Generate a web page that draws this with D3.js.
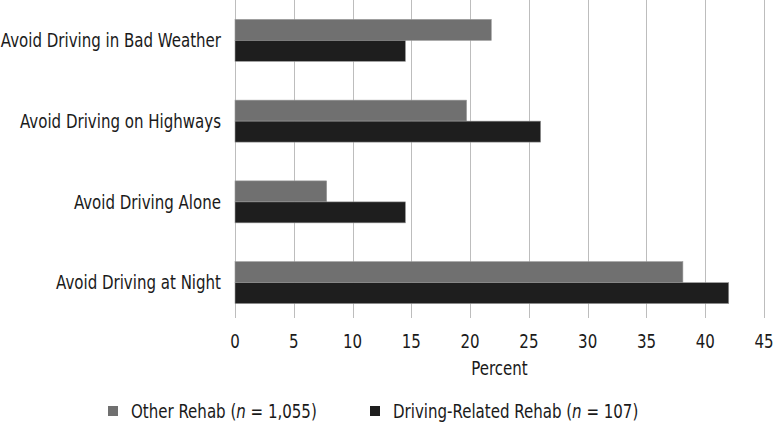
<!DOCTYPE html>
<html>
<head>
<meta charset="utf-8">
<script src="https://cdn.jsdelivr.net/npm/d3@7"></script>
<style>
  body { margin: 0; background: #fff; }
  text { font-family: "DejaVu Sans Condensed", "DejaVu Sans", sans-serif; fill: #1a1a1a; font-size: 19px; }
</style>
</head>
<body>
<svg id="chart" width="773" height="426"></svg>
<script>
// data
const categories = ['Avoid Driving in Bad Weather', 'Avoid Driving on Highways', 'Avoid Driving Alone', 'Avoid Driving at Night'];
const otherRehab = [21.8, 19.7, 7.8, 38.1];
const drivingRehab = [14.5, 26.0, 14.5, 42.0];
const seriesNames = ['Other Rehab', 'Driving-Related Rehab'];
const seriesN = ['1,055', '107'];
const seriesColors = ['#707070', '#1e1e1e'];
const xTicks = [0, 5, 10, 15, 20, 25, 30, 35, 40, 45];

const svg = d3.select('#chart');
const narrow = 0.88; // squeeze glyphs to look like the condensed face
const place = (px, py) => `translate(${px},${py}) scale(${narrow},1)`;

const x = d3.scaleLinear().domain([0, 45]).range([235, 764]);
const y = d3.scaleBand().domain(categories).range([0, 323]).paddingInner(0.48).paddingOuter(0.24);
const ySub = d3.scaleBand().domain([0, 1]).range([0, y.bandwidth()]);

// gridlines + ticks
svg.append('g')
  .selectAll('line')
  .data(xTicks)
  .enter()
  .append('line')
  .attr('x1', (d) => Math.round(x(d)) + 0.5)
  .attr('x2', (d) => Math.round(x(d)) + 0.5)
  .attr('y1', 0)
  .attr('y2', 318)
  .attr('stroke', '#bdbdbd')
  .attr('stroke-width', 1);

const rows = categories.map((c, i) => ({ cat: c, vals: [otherRehab[i], drivingRehab[i]] }));

const groups = svg.append('g')
  .selectAll('g')
  .data(rows)
  .enter()
  .append('g')
  .attr('transform', (d) => `translate(0,${y(d.cat)})`);

groups.selectAll('rect')
  .data((d) => d.vals.map((v, k) => ({ v, k })))
  .enter()
  .append('rect')
  .attr('x', x(0))
  .attr('y', (d) => ySub(d.k))
  .attr('width', (d) => x(d.v) - x(0))
  .attr('height', ySub.bandwidth())
  .attr('fill', (d) => seriesColors[d.k])
  .attr('stroke', '#9a9a9a')
  .attr('stroke-width', 0.6);

// category labels
svg.append('g')
  .selectAll('text')
  .data(categories)
  .enter()
  .append('text')
  .attr('transform', (d) => place(221, y(d) + y.bandwidth() / 2))
  .attr('dy', '0.35em')
  .attr('text-anchor', 'end')
  .text((d) => d);

// x tick labels
svg.append('g')
  .selectAll('text')
  .data(xTicks)
  .enter()
  .append('text')
  .attr('transform', (d) => place(x(d), 341))
  .attr('dy', '0.35em')
  .attr('text-anchor', 'middle')
  .text((d) => d);

svg.append('text')
  .attr('transform', place((x(0) + x(45)) / 2, 368))
  .attr('dy', '0.35em')
  .attr('text-anchor', 'middle')
  .text('Percent');

// legend
const legendX = [108, 370];
const legend = svg.append('g')
  .selectAll('g')
  .data(seriesNames)
  .enter()
  .append('g')
  .attr('transform', (d, i) => `translate(${legendX[i]},411)`);

legend.append('rect')
  .attr('x', 0)
  .attr('y', -5)
  .attr('width', 10)
  .attr('height', 10)
  .attr('fill', (d, i) => seriesColors[i]);

const lt = legend.append('text')
  .attr('transform', place(23, 0))
  .attr('dy', '0.35em');
lt.append('tspan').text((d) => d + ' (');
lt.append('tspan').attr('font-style', 'italic').text('n');
lt.append('tspan').text((d, i) => ' = ' + seriesN[i] + ')');
</script>
</body>
</html>
